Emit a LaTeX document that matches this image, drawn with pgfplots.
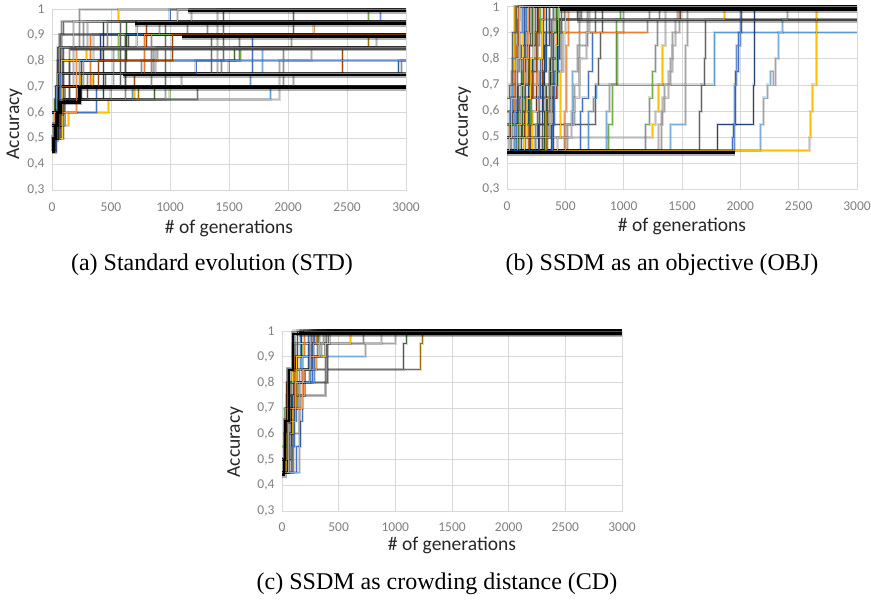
\documentclass[border=0pt]{standalone}
\usepackage{pgfplots}
\pgfplotsset{compat=1.18}
\usepackage{fontspec}
\setmainfont{Liberation Serif}
\newfontfamily\calfont{Carlito}
\definecolor{c1}{HTML}{4472C4}
\definecolor{c2}{HTML}{ED7D31}
\definecolor{c3}{HTML}{A5A5A5}
\definecolor{c4}{HTML}{FFC000}
\definecolor{c5}{HTML}{5B9BD5}
\definecolor{c6}{HTML}{70AD47}
\definecolor{c7}{HTML}{264478}
\definecolor{c8}{HTML}{9E480E}
\definecolor{c9}{HTML}{636363}
\definecolor{c10}{HTML}{997300}
\definecolor{c11}{HTML}{255E91}
\definecolor{c12}{HTML}{43682B}
\definecolor{c13}{HTML}{698ED0}
\definecolor{c14}{HTML}{F1975A}
\definecolor{c15}{HTML}{B7B7B7}
\definecolor{c16}{HTML}{FFCD33}
\definecolor{c17}{HTML}{7CAFDD}
\definecolor{c18}{HTML}{8CC168}
\definecolor{gridc}{HTML}{D9D9D9}
\definecolor{tickc}{HTML}{7F7F7F}
\definecolor{titc}{HTML}{262626}
\pgfplotsset{
  run/.style={const plot, color=#1, line width=0.9pt, preaction={draw=black, draw opacity=0.15, line width=3pt}},
  bundle/.style={const plot, black, line width=#1, preaction={draw=black, draw opacity=0.3, line width=#1+3.5pt}},
  panel/.style={
    scale only axis, xmin=0, xmax=3000, ymin=0.3, ymax=1,
    xtick={0,500,1000,1500,2000,2500,3000},
    xticklabels={0,500,1000,1500,2000,2500,3000},
    ytick={0.3,0.4,0.5,0.6,0.7,0.8,0.9,1},
    yticklabels={{0,3},{0,4},{0,5},{0,6},{0,7},{0,8},{0,9},1},
    grid=major, major grid style={gridc, line width=0.8pt},
    axis line style={gridc, line width=0.8pt},
    major tick length=0pt,
    ticklabel style={font=\calfont\fontsize{13.5}{13.5}\selectfont, text=tickc},
    yticklabel style={xshift=-4pt},
    label style={font=\calfont\fontsize{19.5}{19.5}\selectfont, text=titc},
    xlabel={\# of generations}, ylabel={Accuracy},
    no markers, clip=false,
  },
}
\newcommand\R[2]{\addplot[run=#1] coordinates {#2};}
\begin{document}
\begin{tikzpicture}[x=1pt,y=1pt]
\useasboundingbox (0,0) rectangle (871,600);
% ---------------- (a) STD
\begin{axis}[panel, at={(52pt,410pt)}, anchor=south west, width=354pt, height=181pt,
  xticklabel style={yshift=-9pt},
  xlabel style={at={(axis description cs:0.5,0)}, anchor=center, yshift=-38pt},
  ylabel style={at={(axis description cs:-0.106,0.365)}, anchor=center}]
\R{c2}{(0,0.5)(30,0.65)(60,0.85)(230,1)(3000,1)}
\R{c1}{(0,0.45)(30,0.6)(60,0.9)(100,0.95)(3000,0.95)}
\R{c4}{(0,0.5)(60,0.55)(140,0.6)(475,0.65)(700,0.7)(3000,0.7)}
\R{c5}{(0,0.5)(50,0.6)(110,0.65)(1848,0.7)(3000,0.7)}
\R{c18}{(0,0.55)(80,0.65)(1000,0.7)(3000,0.7)}
\R{c12}{(0,0.55)(70,0.65)(870,0.7)(3000,0.7)}
\R{c8}{(0,0.5)(60,0.7)(700,0.75)(2458,0.85)(3000,0.85)}
\R{c14}{(0,0.6)(100,0.75)(1930,0.8)(3000,0.8)}
\R{c6}{(0,0.55)(60,0.7)(300,0.75)(1500,0.8)(1590,0.9)(3000,0.9)}
\R{c4}{(0,0.6)(70,0.85)(300,0.95)(560,1)(3000,1)}
\R{c1}{(0,0.5)(40,0.7)(450,0.75)(1700,0.9)(3000,0.9)}
\R{c5}{(0,0.6)(80,0.75)(2960,0.8)(3000,0.8)}
\R{c17}{(0,0.55)(90,0.75)(1780,0.85)(2030,0.9)(3000,0.9)}
\R{c2}{(0,0.5)(50,0.65)(150,0.85)(270,0.95)(3000,0.95)}
\R{c14}{(0,0.55)(60,0.8)(2200,0.85)(3000,0.85)}
\R{c9}{(0,0.6)(100,0.85)(650,0.9)(3000,0.9)}
\R{c3}{(0,0.55)(70,0.7)(350,0.75)(860,0.85)(3000,0.85)}
\R{c15}{(0,0.6)(90,0.8)(420,0.85)(2750,0.9)(3000,0.9)}
\R{c12}{(0,0.55)(40,0.65)(250,0.8)(1550,0.85)(3000,0.85)}
\R{c6}{(0,0.5)(80,0.7)(1960,0.85)(3000,0.85)}
\R{c7}{(0,0.45)(20,0.5)(40,0.65)(440,0.95)(3000,0.95)}
\R{c13}{(0,0.5)(30,0.6)(80,0.95)(2780,1)(3000,1)}
\R{c6}{(0,0.6)(60,0.9)(1320,0.95)(2680,1)(3000,1)}
\R{c10}{(0,0.55)(80,0.85)(2680,0.9)(3000,0.9)}
\R{c4}{(0,0.55)(90,0.65)(1930,0.75)(3000,0.75)}
\R{c1}{(0,0.45)(40,0.6)(380,0.7)(960,0.95)(1000,1)(3000,1)}
\R{c5}{(0,0.5)(60,0.65)(680,0.7)(3000,0.7)}
\R{c16}{(0,0.6)(70,0.8)(350,0.9)(3000,0.9)}
\R{c11}{(0,0.55)(70,0.75)(2940,0.8)(3000,0.8)}
\R{c13}{(0,0.5)(100,0.7)(1680,0.75)(3000,0.75)}
\R{c18}{(0,0.55)(100,0.65)(960,0.7)(3000,0.7)}
\R{c3}{(0,0.5)(50,0.65)(500,0.7)(3000,0.7)}
\R{c2}{(0,0.55)(110,0.7)(330,0.9)(3000,0.9)}
\R{c15}{(0,0.5)(60,0.7)(1100,0.75)(1400,1)(3000,1)}
\R{c12}{(0,0.5)(50,0.65)(150,0.8)(630,0.95)(1450,1)(3000,1)}
\R{c17}{(0,0.5)(20,0.55)(70,0.7)(2050,0.75)(3000,0.75)}
\R{c14}{(0,0.6)(80,0.9)(2220,0.95)(3000,0.95)}
\R{c6}{(0,0.55)(60,0.75)(1440,0.8)(1600,0.85)(3000,0.85)}
\R{c9}{(0,0.6)(70,0.9)(2050,1)(3000,1)}
\R{c1}{(0,0.55)(80,0.65)(1230,0.7)(3000,0.7)}
\R{c4}{(0,0.55)(40,0.7)(240,0.75)(880,0.85)(3000,0.85)}
\R{c5}{(0,0.5)(30,0.65)(620,0.9)(1150,0.95)(3000,0.95)}
\R{c8}{(0,0.55)(50,0.85)(800,0.95)(3000,0.95)}
\R{c10}{(0,0.6)(60,0.75)(1350,0.9)(3000,0.9)}
\R{c3}{(0,0.55)(60,0.7)(520,0.85)(3000,0.85)}
\R{c16}{(0,0.5)(90,0.7)(340,0.75)(3000,0.75)}
\R{c7}{(0,0.55)(50,0.8)(410,0.9)(3000,0.9)}
\R{c18}{(0,0.6)(40,0.7)(270,0.8)(560,0.9)(910,0.95)(3000,0.95)}
\R{c11}{(0,0.5)(30,0.7)(620,0.9)(3000,0.9)}
\R{c2}{(0,0.55)(70,0.75)(780,0.9)(3000,0.9)}
\R{c15}{(0,0.5)(40,0.7)(180,0.95)(1180,1)(3000,1)}
\R{c5}{(0,0.55)(60,0.85)(470,0.95)(3000,0.95)}
\R{c10}{(0,0.55)(80,0.65)(730,0.7)(3000,0.7)}
\R{c13}{(0,0.6)(50,0.75)(760,0.8)(3000,0.8)}
\R{c6}{(0,0.6)(50,0.7)(840,0.9)(3000,0.9)}
\R{c12}{(0,0.5)(20,0.65)(300,0.7)(3000,0.7)}
\R{c4}{(0,0.6)(80,0.8)(290,0.85)(3000,0.85)}
\R{c9}{(0,0.5)(60,0.7)(580,0.95)(3000,0.95)}
\R{c17}{(0,0.55)(40,0.7)(230,0.8)(890,0.85)(3000,0.85)}
\R{c8}{(0,0.5)(50,0.7)(390,0.8)(1020,0.9)(3000,0.9)}
\R{c1}{(0,0.6)(70,0.75)(1220,0.8)(1450,0.95)(3000,0.95)}
\R{c14}{(0,0.5)(20,0.6)(210,0.85)(720,0.95)(1060,1)(3000,1)}
\addplot[bundle=3pt] coordinates {(0,0.45)(15,0.5)(30,0.55)(50,0.6)(70,0.64)(230,0.695)(3000,0.695)};
\addplot[bundle=2pt] coordinates {(600,0.745)(3000,0.745)};
\addplot[bundle=1.2pt, black!70] coordinates {(150,0.845)(3000,0.845)};
\addplot[bundle=2.6pt] coordinates {(1100,0.893)(3000,0.893)};
\addplot[bundle=2.6pt] coordinates {(700,0.943)(3000,0.943)};
\addplot[bundle=2.6pt] coordinates {(1150,0.993)(3000,0.993)};
\end{axis}
% ---------------- (b) OBJ
\begin{axis}[panel, at={(507pt,410.7pt)}, anchor=south west, width=350pt, height=182.6pt,
  xticklabel style={yshift=-9pt},
  xlabel style={at={(axis description cs:0.5,0)}, anchor=center, yshift=-37pt},
  ylabel style={at={(axis description cs:-0.125,0.369)}, anchor=center}]
\R{c4}{(0,0.45)(20,0.55)(40,0.75)(60,1)(3000,1)}
\R{c2}{(0,0.5)(30,0.6)(60,0.75)(90,0.95)(110,1)(3000,1)}
\R{c1}{(0,0.45)(60,0.55)(90,0.7)(120,0.85)(150,1)(3000,1)}
\R{c5}{(0,0.55)(80,0.6)(140,0.8)(170,1)(3000,1)}
\R{c6}{(0,0.45)(100,0.6)(130,0.75)(160,0.9)(190,1)(3000,1)}
\R{c3}{(0,0.6)(60,0.65)(430,0.75)(470,0.95)(490,1)(3000,1)}
\R{c8}{(0,0.45)(150,0.6)(250,0.7)(300,0.9)(400,0.95)(620,1)(3000,1)}
\R{c9}{(0,0.45)(200,0.55)(760,0.7)(780,0.8)(800,0.9)(820,1)(3000,1)}
\R{c4}{(0,0.5)(1250,0.55)(1270,0.6)(1300,0.7)(1330,0.85)(1360,1)(3000,1)}
\R{c14}{(0,0.45)(490,0.6)(510,0.85)(530,1)(3000,1)}
\R{c17}{(0,0.45)(520,0.55)(560,0.75)(600,0.85)(620,1)(3000,1)}
\R{c1}{(0,0.45)(630,0.6)(650,0.65)(700,0.75)(730,0.9)(760,1)(3000,1)}
\R{c6}{(0,0.45)(870,0.55)(900,0.7)(940,0.95)(970,1)(3000,1)}
\R{c17}{(0,0.45)(850,0.6)(880,0.7)(950,0.9)(1000,1)(3000,1)}
\R{c5}{(0,0.45)(700,0.6)(740,0.65)(770,0.7)(1780,0.9)(3000,0.9)}
\R{c15}{(0,0.45)(1300,0.55)(1330,0.65)(1380,0.75)(1420,0.85)(1440,0.95)(1460,1)(3000,1)}
\R{c3}{(0,0.45)(1320,0.6)(1350,0.7)(1400,0.8)(1420,0.9)(1480,1)(3000,1)}
\R{c9}{(0,0.45)(1650,0.6)(1670,0.7)(1690,0.8)(1700,0.95)(3000,0.95)}
\R{c6}{(0,0.45)(1190,0.55)(1220,0.65)(1250,0.75)(1270,0.85)(1290,0.95)(1310,1)(3000,1)}
\R{c17}{(0,0.45)(1400,0.55)(1530,0.85)(1550,1)(3000,1)}
\R{c7}{(0,0.45)(1800,0.55)(2110,0.7)(2120,1)(3000,1)}
\R{c1}{(0,0.45)(1930,0.5)(1940,0.55)(1960,0.75)(1980,0.9)(2010,1)(3000,1)}
\R{c13}{(0,0.45)(1950,0.7)(1970,0.85)(2000,1)(3000,1)}
\R{c17}{(0,0.45)(2170,0.55)(2200,0.65)(2230,0.7)(2260,0.75)(2280,0.7)(2300,0.8)(2330,0.9)(2360,0.95)(2400,1)(3000,1)}
\R{c4}{(0,0.45)(2590,0.5)(2600,0.6)(2620,0.7)(2650,1)(3000,1)}
\R{c2}{(0,0.45)(350,0.6)(400,0.9)(1200,0.95)(1220,1)(3000,1)}
\R{c8}{(0,0.45)(400,0.7)(430,0.95)(1490,1)(3000,1)}
\R{c14}{(0,0.45)(300,0.5)(360,0.6)(380,0.8)(420,1)(3000,1)}
\R{c9}{(0,0.45)(300,0.55)(350,0.65)(400,0.8)(440,1)(3000,1)}
\R{c10}{(0,0.6)(120,0.7)(180,0.85)(240,1)(3000,1)}
\R{c1}{(0,0.45)(240,0.5)(260,0.65)(290,0.8)(310,1)(3000,1)}
\R{c4}{(0,0.45)(220,0.6)(260,0.8)(300,0.95)(1860,1)(3000,1)}
\R{c12}{(0,0.45)(320,0.6)(340,0.7)(370,0.8)(400,0.9)(420,1)(3000,1)}
\R{c16}{(0,0.5)(40,0.55)(70,0.7)(90,0.8)(130,1)(3000,1)}
\R{c11}{(0,0.45)(120,0.55)(180,0.7)(220,0.8)(260,1)(3000,1)}
\R{c18}{(0,0.45)(160,0.6)(190,0.75)(230,0.9)(270,1)(3000,1)}
\R{c13}{(0,0.55)(30,0.65)(330,0.7)(380,0.8)(450,0.95)(640,1)(3000,1)}
\R{c3}{(0,0.45)(500,0.55)(580,0.7)(620,0.85)(690,1)(3000,1)}
\R{c5}{(0,0.45)(80,0.55)(110,0.65)(140,0.8)(160,1)(3000,1)}
\R{c2}{(0,0.45)(180,0.55)(210,0.7)(250,0.85)(280,0.95)(320,1)(3000,1)}
\R{c15}{(0,0.5)(550,0.6)(580,0.65)(620,0.8)(680,0.9)(710,1)(3000,1)}
\R{c6}{(0,0.45)(240,0.55)(280,0.75)(330,0.9)(360,1)(3000,1)}
\R{c8}{(0,0.45)(380,0.55)(400,0.65)(420,0.8)(450,0.95)(600,1)(3000,1)}
\R{c4}{(0,0.45)(430,0.5)(460,0.75)(480,0.9)(500,1)(3000,1)}
\R{c9}{(0,0.55)(50,0.6)(100,0.7)(150,0.85)(200,1)(3000,1)}
\R{c1}{(0,0.45)(390,0.55)(410,0.75)(440,0.9)(470,1)(3000,1)}
\R{c14}{(0,0.45)(330,0.65)(360,0.75)(380,0.9)(400,1)(3000,1)}
\R{c2}{(0,0.45)(40,0.55)(60,0.7)(80,0.85)(100,1)(3000,1)}
\R{c5}{(0,0.5)(20,0.6)(50,0.8)(70,1)(3000,1)}
\R{c3}{(0,0.45)(110,0.6)(140,0.7)(170,0.9)(200,1)(3000,1)}
\R{c6}{(0,0.55)(200,0.65)(230,0.8)(260,0.9)(290,1)(3000,1)}
\R{c7}{(0,0.45)(270,0.55)(300,0.7)(320,0.85)(340,1)(3000,1)}
\R{c8}{(0,0.45)(190,0.65)(220,0.75)(250,0.9)(270,1)(3000,1)}
\R{c10}{(0,0.45)(340,0.6)(360,0.8)(380,0.95)(400,1)(3000,1)}
\R{c16}{(0,0.45)(150,0.5)(170,0.65)(200,0.8)(230,1)(3000,1)}
\R{c13}{(0,0.45)(60,0.6)(80,0.75)(110,0.9)(130,1)(3000,1)}
\R{c12}{(0,0.5)(130,0.6)(160,0.7)(190,0.85)(220,1)(3000,1)}
\R{c14}{(0,0.45)(90,0.55)(120,0.7)(150,0.8)(180,1)(3000,1)}
\R{c11}{(0,0.45)(280,0.6)(310,0.75)(340,0.85)(360,1)(3000,1)}
\R{c18}{(0,0.5)(360,0.55)(380,0.7)(420,0.85)(440,1)(3000,1)}
\R{c9}{(0,0.65)(20,0.7)(50,0.9)(80,1)(3000,1)}
\R{c15}{(0,0.45)(20,0.5)(40,0.65)(80,0.8)(110,1)(3000,1)}
\addplot[bundle=3pt] coordinates {(0,0.44)(1950,0.44)};
\addplot[bundle=1.4pt, black!75] coordinates {(600,0.948)(3000,0.948)};
\addplot[bundle=3pt] coordinates {(450,0.99)(3000,0.99)};
\end{axis}
% ---------------- (c) CD
\begin{axis}[panel, at={(282pt,89pt)}, anchor=south west, width=340pt, height=180pt,
  xticklabel style={yshift=-8pt},
  xlabel style={at={(axis description cs:0.5,0)}, anchor=center, yshift=-34pt},
  ylabel style={at={(axis description cs:-0.138,0.383)}, anchor=center}]
\R{c1}{(0,0.45)(130,0.55)(160,0.65)(180,0.75)(200,0.85)(230,1)(3000,1)}
\R{c12}{(0,0.45)(40,0.7)(100,0.8)(200,0.85)(1070,0.95)(1100,1)(3000,1)}
\R{c10}{(0,0.5)(60,0.8)(200,0.85)(1220,0.95)(1240,1)(3000,1)}
\R{c17}{(0,0.45)(30,0.7)(60,0.8)(250,0.9)(740,0.95)(1000,1)(3000,1)}
\R{c15}{(0,0.5)(50,0.85)(100,0.95)(880,1)(3000,1)}
\R{c6}{(0,0.5)(40,0.75)(380,0.95)(720,1)(3000,1)}
\R{c4}{(0,0.5)(70,0.7)(120,0.95)(600,1)(3000,1)}
\R{c2}{(0,0.45)(60,0.6)(150,0.75)(380,0.8)(400,1)(3000,1)}
\R{c8}{(0,0.5)(40,0.8)(120,0.9)(280,1)(3000,1)}
\R{c3}{(0,0.45)(90,0.75)(200,0.8)(390,0.95)(420,1)(3000,1)}
\R{c14}{(0,0.45)(50,0.75)(200,0.85)(300,0.9)(380,1)(3000,1)}
\R{c5}{(0,0.45)(30,0.55)(60,0.65)(100,0.7)(130,0.85)(160,1)(3000,1)}
\R{c4}{(0,0.45)(20,0.6)(50,0.7)(80,0.8)(100,1)(3000,1)}
\R{c9}{(0,0.45)(20,0.6)(80,0.75)(130,0.8)(400,1)(3000,1)}
\R{c7}{(0,0.45)(50,0.5)(80,0.7)(130,0.9)(170,1)(3000,1)}
\R{c18}{(0,0.5)(20,0.7)(60,0.85)(180,0.95)(320,1)(3000,1)}
\R{c13}{(0,0.45)(100,0.65)(130,0.8)(290,0.9)(310,1)(3000,1)}
\R{c16}{(0,0.5)(40,0.6)(70,0.8)(90,0.95)(420,1)(3000,1)}
\R{c11}{(0,0.45)(60,0.6)(90,0.75)(120,0.85)(140,1)(3000,1)}
\R{c2}{(0,0.45)(30,0.7)(110,0.9)(200,1)(3000,1)}
\R{c6}{(0,0.55)(50,0.8)(150,0.85)(260,0.95)(280,1)(3000,1)}
\R{c1}{(0,0.45)(80,0.55)(110,0.7)(150,0.8)(270,0.95)(290,1)(3000,1)}
\R{c4}{(0,0.45)(40,0.5)(60,0.6)(90,0.7)(130,0.9)(380,0.95)(400,1)(3000,1)}
\R{c5}{(0,0.45)(70,0.6)(100,0.75)(140,0.8)(240,0.95)(260,1)(3000,1)}
\R{c17}{(0,0.45)(150,0.8)(180,0.9)(350,0.95)(370,1)(3000,1)}
\R{c2}{(0,0.5)(60,0.7)(120,0.85)(280,0.95)(300,1)(3000,1)}
\R{c14}{(0,0.5)(50,0.7)(180,0.85)(240,0.9)(330,1)(3000,1)}
\R{c3}{(0,0.45)(60,0.65)(120,0.8)(190,0.85)(250,1)(3000,1)}
\addplot[bundle=2pt] coordinates {(0,0.44)(20,0.5)(30,0.65)(60,0.85)(100,0.99)(3000,0.99)};
\addplot[bundle=3.5pt] coordinates {(150,0.99)(3000,0.99)};
\end{axis}
\node[anchor=base, font=\fontsize{24}{24}\selectfont] at (212,329) {(a) Standard evolution (STD)};
\node[anchor=base, font=\fontsize{24}{24}\selectfont] at (662,329) {(b) SSDM as an objective (OBJ)};
\node[anchor=base, font=\fontsize{24}{24}\selectfont] at (437,10) {(c) SSDM as crowding distance (CD)};
\end{tikzpicture}
\end{document}
